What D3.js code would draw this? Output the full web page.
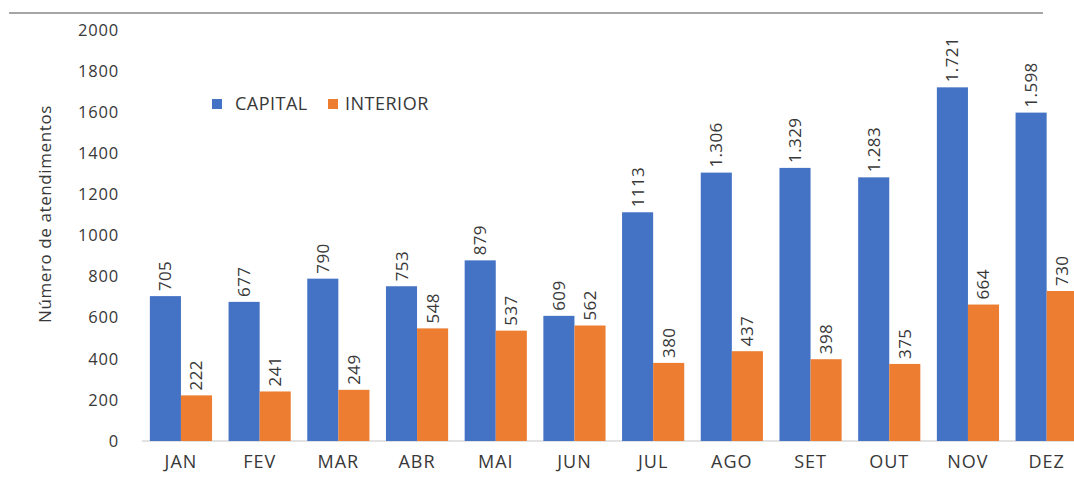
<!DOCTYPE html>
<html>
<head>
<meta charset="utf-8">
<script src="https://cdn.jsdelivr.net/npm/d3@7"></script>
<style>
  html, body { margin: 0; padding: 0; background: #fff; }
  svg { display: block; font-family: "Open Sans", "Liberation Sans", sans-serif; font-weight: 500; }
</style>
</head>
<body>
<svg id="chart" width="1074" height="477"></svg>
<script>
// Monthly attendance counts, capital vs interior
const months = ["JAN", "FEV", "MAR", "ABR", "MAI", "JUN", "JUL", "AGO", "SET", "OUT", "NOV", "DEZ"];
const capital = [705, 677, 790, 753, 879, 609, 1113, 1306, 1329, 1283, 1721, 1598];
const interior = [222, 241, 249, 548, 537, 562, 380, 437, 398, 375, 664, 730];
const capitalLabels = ["705", "677", "790", "753", "879", "609", "1113", "1.306", "1.329", "1.283", "1.721", "1.598"];
const interiorLabels = ["222", "241", "249", "548", "537", "562", "380", "437", "398", "375", "664", "730"];
const yTicks = [0, 200, 400, 600, 800, 1000, 1200, 1400, 1600, 1800, 2000];
const seriesNames = ["CAPITAL", "INTERIOR"];
const colors = ["#4472C4", "#ED7D31"];

const svg = d3.select("#chart");
const textColor = "#383838";

const x = d3.scaleBand().domain(months).range([141.6, 1086]).paddingInner(0.21).paddingOuter(0.105);
const xs = d3.scaleBand().domain(seriesNames).range([0, x.bandwidth()]);
const y = d3.scaleLinear().domain([0, 2000]).range([441, 30]);

// top rule
svg.append("line").attr("x1", 9).attr("x2", 1043).attr("y1", 13).attr("y2", 13)
  .attr("stroke", "#a6a6a6").attr("stroke-width", 2);

// y axis labels
const yAxis = d3.axisLeft(y).tickValues(yTicks).tickSize(0).tickPadding(0).tickFormat(d3.format("d"));
const yg = svg.append("g").attr("transform", "translate(119,0)").call(yAxis);
yg.select(".domain").remove();
yg.selectAll("text").attr("fill", textColor).style("font-size", "16.5px")
  .style("letter-spacing", "0.8px")
  .style("font-family", "'Open Sans', sans-serif");

// y axis title
svg.append("text")
  .attr("transform", "translate(51,214) rotate(-90)")
  .attr("text-anchor", "middle")
  .attr("fill", textColor)
  .style("font-size", "17px")
  .style("letter-spacing", "0.6px")
  .text("Número de atendimentos");

// baseline
svg.append("line").attr("x1", 142).attr("x2", 1074).attr("y1", y(0)).attr("y2", y(0))
  .attr("stroke", "#d9d9d9").attr("stroke-width", 1.5);

// bars
const series = [capital, interior];
const labels = [capitalLabels, interiorLabels];
series.forEach((vals, si) => {
  const g = svg.append("g");
  g.selectAll("rect").data(vals).enter().append("rect")
    .attr("x", (d, i) => x(months[i]) + xs(seriesNames[si]))
    .attr("y", d => y(d))
    .attr("width", xs.bandwidth())
    .attr("height", d => y(0) - y(d))
    .attr("fill", colors[si]);
  g.selectAll("text").data(vals).enter().append("text")
    .attr("transform", (d, i) => {
      const cx = x(months[i]) + xs(seriesNames[si]) + xs.bandwidth() / 2 + 6;
      return `translate(${cx},${y(d) - 5}) rotate(-90)`;
    })
    .attr("text-anchor", "start")
    .attr("fill", textColor)
    .style("font-size", "17px")
    .style("letter-spacing", "0.4px")
    .text((d, i) => labels[si][i]);
});

// x axis labels
const xAxis = d3.axisBottom(x).tickSize(0).tickPadding(0);
const xg = svg.append("g").attr("transform", "translate(0,455)").call(xAxis);
xg.select(".domain").remove();
xg.selectAll("text").attr("fill", textColor).style("font-size", "18px")
  .style("letter-spacing", "1px")
  .style("font-family", "'Open Sans', sans-serif");

// legend
const legend = svg.append("g");
const legendX = [212, 328];
seriesNames.forEach((name, i) => {
  legend.append("rect").attr("x", legendX[i]).attr("y", 99).attr("width", 10).attr("height", 10)
    .attr("fill", colors[i]);
  legend.append("text").attr("x", legendX[i] + (i === 0 ? 23 : 17)).attr("y", 110)
    .attr("fill", textColor).style("font-size", "18px").style("letter-spacing", "0.5px").text(name);
});
</script>
</body>
</html>
